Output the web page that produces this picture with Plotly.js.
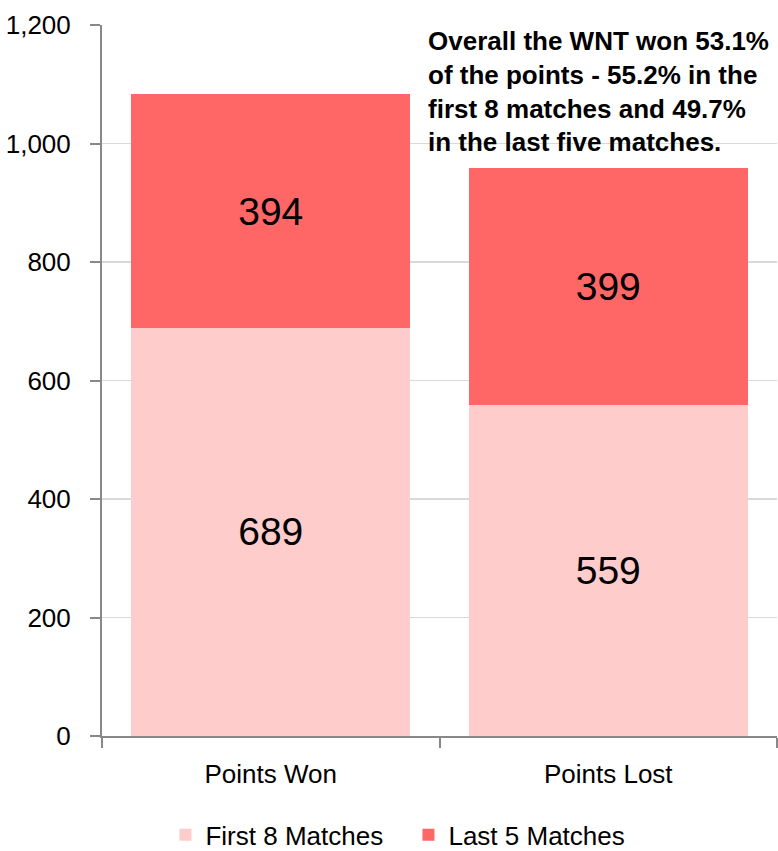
<!DOCTYPE html>
<html>
<head>
<meta charset="utf-8">
<script src="https://cdn.plot.ly/plotly-3.0.1.min.js"></script>
<style>html,body{margin:0;padding:0;background:#fff;}#chart{width:778px;height:851px;}</style>
</head>
<body>
<div id="chart"></div>
<script>
const categories = ["Points Won", "Points Lost"];
const first8 = [689, 559];
const last5 = [394, 399];
const seriesNames = ["First 8 Matches", "Last 5 Matches"];
const yTicks = [0, 200, 400, 600, 800, 1000, 1200];
const yTickText = ["0", "200", "400", "600", "800", "1,000", "1,200"];
const noteText = "Overall the WNT won 53.1%<br>of the points - 55.2% in the<br>first 8 matches and 49.7%<br>in the last five matches.";

const FONT = "'Liberation Sans', Arial, sans-serif";

const traces = [
  {
    type: "bar", name: seriesNames[0], x: categories, y: first8,
    marker: {color: "#FFCCCC"},
    text: first8.map(String), textposition: "inside", insidetextanchor: "middle",
    textfont: {family: FONT, size: 39, color: "#000"}, textangle: 0,
    hoverinfo: "none"
  },
  {
    type: "bar", name: seriesNames[1], x: categories, y: last5,
    marker: {color: "#FF6666"},
    text: last5.map(String), textposition: "inside", insidetextanchor: "middle",
    textfont: {family: FONT, size: 39, color: "#000"}, textangle: 0,
    hoverinfo: "none"
  }
];

const layout = {
  width: 778, height: 851,
  margin: {l: 101.5, r: 1, t: 25, b: 115, autoexpand: false},
  paper_bgcolor: "#fff", plot_bgcolor: "#fff",
  font: {family: FONT, size: 26, color: "#000"},
  barmode: "stack",
  bargap: 0.174,
  showlegend: true,
  legend: {
    orientation: "h", x: 0.525, xanchor: "center", xref: "container",
    y: 0.019, yanchor: "middle", yref: "container",
    entrywidth: 198, entrywidthmode: "pixels",
    font: {family: FONT, size: 26, color: "#000"},
    traceorder: "normal", itemclick: false
  },
  xaxis: {
    type: "category",
    showline: true, linecolor: "#888", linewidth: 2,
    ticks: "outside", tickson: "boundaries", ticklen: 10, tickcolor: "#888", tickwidth: 2,
    tickfont: {family: FONT, size: 26, color: "#000"},
    ticklabelstandoff: 14,
    showgrid: false, zeroline: false
  },
  yaxis: {
    range: [0, 1200],
    tickvals: yTicks, ticktext: yTickText,
    showline: true, linecolor: "#888", linewidth: 2,
    ticks: "outside", ticklen: 10, tickcolor: "#888", tickwidth: 2,
    tickfont: {family: FONT, size: 26, color: "#000"},
    ticklabelstandoff: 14,
    showgrid: true, gridcolor: "#D9D9D9", gridwidth: 1.5,
    zeroline: false
  },
  annotations: [{
    xref: "paper", yref: "paper", x: 0.4805, y: 1.002, xanchor: "left", yanchor: "top",
    text: "<b>" + noteText + "</b>", align: "left", showarrow: false,
    font: {family: FONT, size: 26, color: "#000"}
  }]
};

Plotly.newPlot("chart", traces, layout, {staticPlot: true});
</script>
</body>
</html>
